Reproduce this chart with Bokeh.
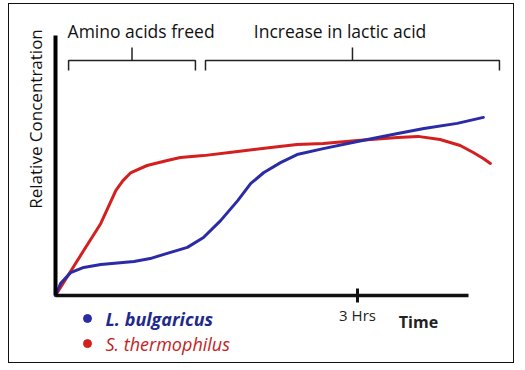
from bokeh.plotting import figure
from bokeh.models import Range1d, LinearAxis, FixedTicker, Label
from bokeh.embed import file_html
from bokeh.resources import INLINE

# ---- data (time in hours, relative concentration in arbitrary units) ----
bulg_time = [0.0, 0.05, 0.15, 0.28, 0.45, 0.78, 0.94, 1.11, 1.31, 1.47, 1.64, 1.81, 1.94,
             2.07, 2.24, 2.40, 2.66, 3.00, 3.40, 3.66, 3.99, 4.25]
bulg_conc = [0.0, 4.6, 8.8, 10.8, 11.9, 13.1, 14.2, 16.2, 18.5, 22.3, 28.8, 36.5, 43.1,
             47.3, 51.2, 54.2, 56.5, 59.2, 62.3, 64.2, 66.2, 68.5]

therm_time = [0.0, 0.28, 0.45, 0.60, 0.67, 0.75, 0.91, 1.11, 1.24, 1.47, 1.81, 2.14, 2.40,
              2.66, 3.00, 3.40, 3.60, 3.82, 4.02, 4.15, 4.25, 4.32]
therm_conc = [0.0, 17.3, 27.7, 40.4, 44.2, 47.3, 50.0, 51.9, 53.1, 53.8, 55.4, 56.9, 58.1,
              58.5, 59.6, 60.8, 61.2, 60.0, 57.7, 55.0, 52.7, 50.8]

series_names = ["L. bulgaricus", "S. thermophilus"]
line_colors = ["#2b2ba6", "#d41f1f"]
text_colors = ["#1f2a8c", "#c41e1e"]

phases = ["Amino acids freed", "Increase in lactic acid"]
phase_start = [0.13, 1.49]
phase_end = [1.39, 4.41]

x_ticks = [3]
x_tick_labels = {3: "3 Hrs"}
x_axis_end = 4.1
y_axis_end = 100

# ---- layout constants ----
W, H = 506, 360
OX, OY = 46, 291          # canvas pixel of data origin
PXH, PXU = 100.67, 2.6    # pixels per hour / per unit

p = figure(width=W, height=H, output_backend="svg", toolbar_location=None,
           x_range=Range1d(-OX / PXH, (W - OX) / PXH),
           y_range=Range1d(-(H - OY) / PXU, OY / PXU),
           x_axis_type=None, y_axis_type=None, min_border=0,
           outline_line_color=None)
p.styles = {"border": "1px solid #111", "margin-top": "3px", "margin-left": "8px"}

FONT = "Open Sans"

# axes
xaxis = LinearAxis(fixed_location=0, ticker=FixedTicker(ticks=x_ticks, minor_ticks=[]),
                   bounds=(0, x_axis_end))
xaxis.major_label_overrides = x_tick_labels
xaxis.axis_line_width = 3.5
xaxis.axis_line_color = "#111"
xaxis.major_tick_in = 7
xaxis.major_tick_out = 7
xaxis.major_tick_line_width = 3
xaxis.major_tick_line_color = "#111"
xaxis.minor_tick_line_color = None
xaxis.major_label_text_font = FONT
xaxis.major_label_text_font_size = "15px"
xaxis.major_label_text_color = "#222"
xaxis.major_label_standoff = 2
p.add_layout(xaxis, "below")

yaxis = LinearAxis(fixed_location=0, ticker=FixedTicker(ticks=[], minor_ticks=[]),
                   bounds=(0, y_axis_end))
yaxis.axis_line_width = 4
yaxis.axis_line_color = "#000"
yaxis.major_tick_line_color = None
yaxis.minor_tick_line_color = None
yaxis.major_label_text_font_size = "0px"
p.add_layout(yaxis, "left")

# curves
p.line(therm_time, therm_conc, line_width=3, line_color=line_colors[1], line_join="round", line_cap="round")
p.line(bulg_time, bulg_conc, line_width=3, line_color=line_colors[0], line_join="round", line_cap="round")

# brackets
bar_y, end_y, tick_y = 90.4, 86.5, 95.4
xs, ys = [], []
for s, e in zip(phase_start, phase_end):
    xs.append([s, s, e, e])
    ys.append([end_y, bar_y, bar_y, end_y])
    c = (s + e) / 2
    xs.append([c, c])
    ys.append([bar_y, tick_y])
p.multi_line(xs, ys, line_color="#222", line_width=1.5)

# phase texts
phase_text_x = [0.12, 1.97]
for t, x in zip(phases, phase_text_x):
    p.add_layout(Label(x=x, y=101.9, text=t, text_font=FONT, text_font_size="17.5px",
                       text_color="#111", text_baseline="middle", text_align="left"))

# y label
p.add_layout(Label(x=-0.20, y=67.9, text="Relative Concentration", angle=1.5708,
                   text_font=FONT, text_font_size="17px", text_color="#111",
                   text_align="center", text_baseline="middle"))

# "Time"
p.add_layout(Label(x=3.41, y=-10.0, text="Time", text_font=FONT, text_font_size="16px",
                   text_font_style="bold", text_color="#222", text_baseline="middle"))

# legend
leg_y = [-8.85, -18.5]
p.scatter([0.318] * 2, leg_y, size=8, color=line_colors)
styles = ["bold italic", "italic"]
for name, yy, col, st in zip(series_names, leg_y, text_colors, styles):
    p.add_layout(Label(x=0.497, y=yy, text=name, text_font=FONT, text_font_size="18px",
                       text_font_style=st, text_color=col, text_baseline="middle"))

open("out.html", "w").write(file_html(p, INLINE))
